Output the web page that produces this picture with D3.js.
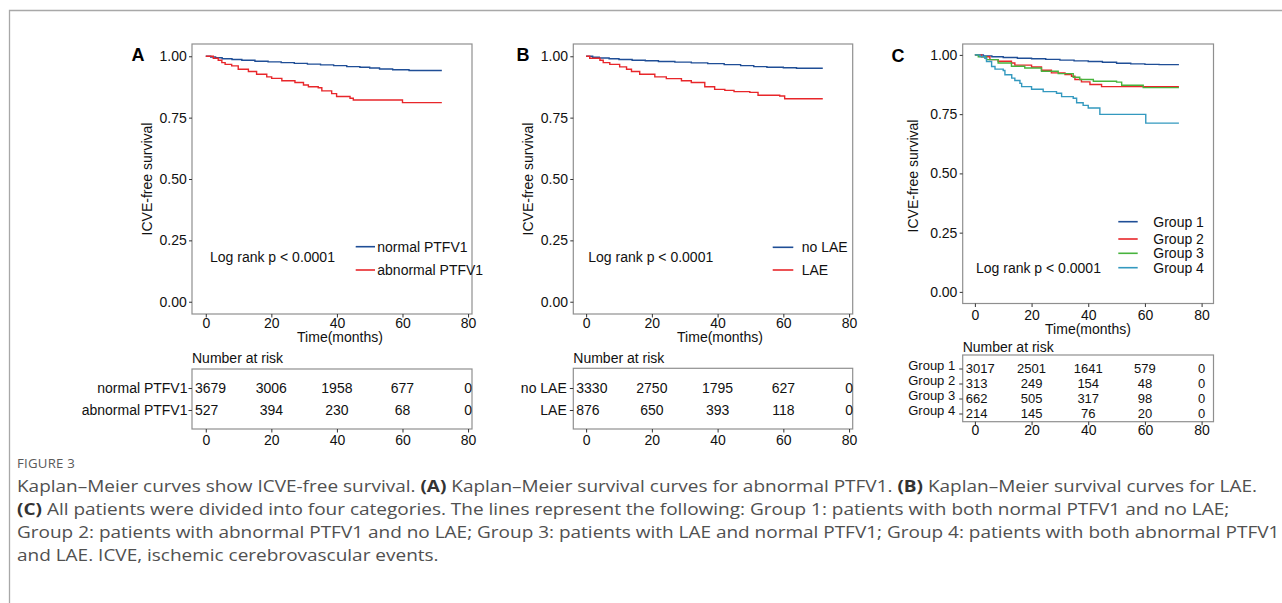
<!DOCTYPE html>
<html>
<head>
<meta charset="utf-8">
<script src="https://cdn.jsdelivr.net/npm/d3@7"></script>
<style>
  body { margin: 0; background: #fff; }
  svg text { font-family: "Liberation Sans", Arial, Helvetica, sans-serif; }
</style>
</head>
<body>
<svg id="fig" width="1282" height="603"></svg>
<script>
// ---- data ----
const timeTicks = [0, 20, 40, 60, 80];
const survTicks = [0, 0.25, 0.5, 0.75, 1];

// Panel A: PTFV1
const aNormalTime = [0, 1.5, 3, 5, 8, 11, 15, 19, 23, 27, 31, 35, 39, 43, 47, 50, 53, 57, 62, 72];
const aNormalSurv = [1, 0.997, 0.994, 0.99, 0.987, 0.984, 0.98, 0.977, 0.974, 0.971, 0.968, 0.965, 0.962, 0.958, 0.955, 0.952, 0.948, 0.945, 0.942, 0.942];
const aAbnormalTime = [0, 2.3, 3.8, 4.9, 5.9, 7.9, 9.9, 13, 15.5, 18.6, 20.1, 23.2, 27.2, 29.8, 31.3, 34.3, 35.4, 38.4, 39.9, 44, 45, 60, 72];
const aAbnormalSurv = [1, 0.992, 0.984, 0.974, 0.967, 0.961, 0.947, 0.938, 0.927, 0.916, 0.91, 0.9, 0.893, 0.883, 0.876, 0.872, 0.859, 0.848, 0.836, 0.829, 0.822, 0.811, 0.811];

// Panel B: LAE
const bNoLaeTime = [0, 2, 4, 7, 10, 14, 18, 22, 27, 32, 37, 42, 47, 51, 55, 60, 64, 72];
const bNoLaeSurv = [1, 0.996, 0.993, 0.99, 0.987, 0.984, 0.982, 0.979, 0.976, 0.973, 0.97, 0.966, 0.962, 0.958, 0.955, 0.953, 0.951, 0.951];
const bLaeTime = [0, 1.1, 4.2, 5.2, 7.2, 10.2, 12.3, 13.8, 16.3, 20.9, 24.4, 29, 32, 36.1, 39.1, 42.2, 45, 49.8, 52.3, 58.9, 60.4, 72];
const bLaeSurv = [1, 0.992, 0.984, 0.974, 0.967, 0.957, 0.947, 0.938, 0.927, 0.916, 0.909, 0.9, 0.893, 0.876, 0.865, 0.861, 0.856, 0.853, 0.841, 0.838, 0.827, 0.827];

// Panel C: four groups
const cG1Time = [0, 3, 6, 10, 15, 20, 25, 30, 35, 40, 45, 50, 55, 60, 65, 72];
const cG1Surv = [1, 0.996, 0.992, 0.989, 0.986, 0.984, 0.981, 0.978, 0.975, 0.972, 0.969, 0.965, 0.962, 0.96, 0.959, 0.959];
const cG2Time = [0, 2.4, 5.3, 8.2, 12.9, 14.1, 20, 23.5, 27, 31.8, 34.1, 35.3, 37.6, 40.6, 44.7, 72];
const cG2Surv = [1, 0.992, 0.98, 0.973, 0.966, 0.957, 0.949, 0.935, 0.924, 0.917, 0.91, 0.896, 0.886, 0.875, 0.866, 0.866];
const cG3Time = [0, 1.2, 4.1, 8.2, 12.9, 17.6, 23.5, 29.4, 34.7, 37, 41.8, 50, 51.8, 59.4, 72];
const cG3Surv = [1, 0.992, 0.98, 0.966, 0.952, 0.945, 0.931, 0.921, 0.906, 0.896, 0.889, 0.885, 0.872, 0.862, 0.862];
const cG4Time = [0, 1.8, 3.5, 4.1, 5.9, 7.1, 10, 10.6, 13, 14.1, 15.9, 16.5, 20, 24.1, 28.8, 30.6, 34.7, 35.9, 38.2, 40, 44.1, 60.3, 72];
const cG4Surv = [1, 0.993, 0.986, 0.972, 0.951, 0.94, 0.934, 0.916, 0.902, 0.892, 0.88, 0.866, 0.855, 0.845, 0.838, 0.824, 0.817, 0.798, 0.787, 0.776, 0.749, 0.712, 0.712];

// numbers at risk at 0, 20, 40, 60, 80 months
const riskNormalPTFV1 = [3679, 3006, 1958, 677, 0];
const riskAbnormalPTFV1 = [527, 394, 230, 68, 0];
const riskNoLAE = [3330, 2750, 1795, 627, 0];
const riskLAE = [876, 650, 393, 118, 0];
const riskGroup1 = [3017, 2501, 1641, 579, 0];
const riskGroup2 = [313, 249, 154, 48, 0];
const riskGroup3 = [662, 505, 317, 98, 0];
const riskGroup4 = [214, 145, 76, 20, 0];

const BLUE = '#1f4e96', RED = '#e8262a', GREEN = '#47b33d', CYAN = '#3399bf';

const svg = d3.select('#fig');
svg.append('rect').attr('width', 1282).attr('height', 603).attr('fill', '#fff');

// outer frame of the figure (top and left rule)
svg.append('path')
  .attr('d', 'M9.5,603 V10.5 H1282')
  .attr('fill', 'none').attr('stroke', '#a8a8a8').attr('stroke-width', 1.3);

const panels = [
  {
    letter: 'A', letterX: 131.5, letterY: 61,
    box: {x0: 192, x1: 472, y0: 44, y1: 314},
    xDomain: [-4.2, 81.2], yDomain: [-0.05, 1.05], xPad: 1,
    yTitle: [146.7, 179], xTitle: [340, 342],
    series: [
      {name: 'normal PTFV1', t: aNormalTime, s: aNormalSurv, color: BLUE, risk: riskNormalPTFV1},
      {name: 'abnormal PTFV1', t: aAbnormalTime, s: aAbnormalSurv, color: RED, risk: riskAbnormalPTFV1}
    ],
    legend: {x0: 355.7, x1: 375, tx: 377.3, ys: [246.7, 270]},
    logrank: [210, 262],
    table: {y0: 369, y1: 429, rows: [388, 410], labelDy: 0, labelPad: 1, titleY: 363, pad: 2.5, font: 14}
  },
  {
    letter: 'B', letterX: 516.5, letterY: 61,
    box: {x0: 573.3, x1: 852.7, y0: 44, y1: 314},
    xDomain: [-3.9, 81.1], yDomain: [-0.05, 1.05], xPad: 1,
    yTitle: [528, 179], xTitle: [720, 342],
    series: [
      {name: 'no LAE', t: bNoLaeTime, s: bNoLaeSurv, color: BLUE, risk: riskNoLAE},
      {name: 'LAE', t: bLaeTime, s: bLaeSurv, color: RED, risk: riskLAE}
    ],
    legend: {x0: 772.7, x1: 793.3, tx: 801.7, ys: [247.3, 270]},
    logrank: [588.3, 262],
    table: {y0: 368.3, y1: 429, rows: [388, 410], labelDy: 0, labelPad: 3, titleY: 363, pad: 2.5, font: 14}
  },
  {
    letter: 'C', letterX: 891.5, letterY: 61.5,
    box: {x0: 962.7, x1: 1213.5, y0: 44, y1: 303.5},
    xDomain: [-4.3, 84.2], yDomain: [-0.049, 1.046], xPad: 3,
    yTitle: [913, 176], xTitle: [1088, 333.5],
    series: [
      {name: 'Group 1', t: cG1Time, s: cG1Surv, color: BLUE, risk: riskGroup1},
      {name: 'Group 2', t: cG2Time, s: cG2Surv, color: RED, risk: riskGroup2},
      {name: 'Group 3', t: cG3Time, s: cG3Surv, color: GREEN, risk: riskGroup3},
      {name: 'Group 4', t: cG4Time, s: cG4Surv, color: CYAN, risk: riskGroup4}
    ],
    legend: {x0: 1118.3, x1: 1137.7, tx: 1153.3, ys: [221.7, 239, 253.3, 267.7]},
    logrank: [976, 273],
    table: {y0: 355, y1: 421.7, rows: [368.5, 413.5], labelDy: -4, labelPad: 4, titleY: 351.7, pad: 0, font: 13}
  }
];

function styleAxis(g, size) {
  g.attr('font-family', null).attr('font-size', size);
  g.select('.domain').remove();
  g.selectAll('.tick line').attr('stroke', '#333');
  g.selectAll('.tick text').attr('fill', '#111');
}

function drawPanel(p) {
  const g = svg.append('g');
  const b = p.box;
  const x = d3.scaleLinear().domain(p.xDomain).range([b.x0, b.x1]);
  const y = d3.scaleLinear().domain(p.yDomain).range([b.y1, b.y0]);

  g.append('rect')
    .attr('x', b.x0).attr('y', b.y0)
    .attr('width', b.x1 - b.x0).attr('height', b.y1 - b.y0)
    .attr('fill', 'none').attr('stroke', '#8f8f8f').attr('stroke-width', 1.2);

  g.append('g')
    .attr('transform', `translate(${b.x0},0)`)
    .call(d3.axisLeft(y).tickValues(survTicks).tickFormat(d3.format('.2f')).tickSize(3).tickPadding(2.3))
    .call(styleAxis, 14);

  g.append('g')
    .attr('transform', `translate(0,${b.y1})`)
    .call(d3.axisBottom(x).tickValues(timeTicks).tickSize(3.5).tickPadding(p.xPad))
    .call(styleAxis, 14);

  // survival curves
  const line = d3.line()
    .x(d => x(d[0]))
    .y(d => y(d[1]))
    .curve(d3.curveStepAfter);

  p.series.forEach(sr => {
    g.append('path')
      .datum(sr.t.map((t, i) => [t, sr.s[i]]))
      .attr('fill', 'none')
      .attr('stroke', sr.color)
      .attr('stroke-width', 1.4)
      .attr('d', line);
  });

  // legend
  p.series.forEach((sr, i) => {
    const ly = p.legend.ys[i];
    g.append('line')
      .attr('x1', p.legend.x0).attr('x2', p.legend.x1)
      .attr('y1', ly).attr('y2', ly)
      .attr('stroke', sr.color).attr('stroke-width', 1.6);
    g.append('text')
      .attr('x', p.legend.tx).attr('y', ly + 5)
      .attr('font-size', 14).attr('fill', '#111')
      .text(sr.name);
  });

  g.append('text')
    .attr('x', p.logrank[0]).attr('y', p.logrank[1])
    .attr('font-size', 14).attr('fill', '#111')
    .text('Log rank p < 0.0001');

  g.append('text')
    .attr('transform', `translate(${p.yTitle[0]},${p.yTitle[1]}) rotate(-90)`)
    .attr('text-anchor', 'middle').attr('dy', '0.35em')
    .attr('font-size', 14).attr('fill', '#111')
    .text('ICVE-free survival');

  g.append('text')
    .attr('x', p.xTitle[0]).attr('y', p.xTitle[1])
    .attr('text-anchor', 'middle')
    .attr('font-size', 14).attr('fill', '#111')
    .text('Time(months)');

  g.append('text')
    .attr('x', p.letterX).attr('y', p.letterY)
    .attr('font-size', 18).attr('font-weight', 'bold').attr('fill', '#000')
    .text(p.letter);

  // risk table
  const tb = p.table;
  const rowScale = d3.scalePoint()
    .domain(p.series.map(sr => sr.name))
    .range(tb.rows);

  g.append('text')
    .attr('x', b.x0).attr('y', tb.titleY)
    .attr('font-size', 14).attr('fill', '#111')
    .text('Number at risk');

  g.append('rect')
    .attr('x', b.x0).attr('y', tb.y0)
    .attr('width', b.x1 - b.x0).attr('height', tb.y1 - tb.y0)
    .attr('fill', 'none').attr('stroke', '#8f8f8f').attr('stroke-width', 1.2);

  const rowAxis = g.append('g')
    .attr('transform', `translate(${b.x0},0)`)
    .call(d3.axisLeft(rowScale).tickSize(3.5).tickPadding(tb.labelPad))
    .call(styleAxis, tb.font);
  rowAxis.selectAll('.tick text').attr('dy', null).attr('y', tb.labelDy + tb.font * 0.35);

  g.append('g')
    .attr('transform', `translate(0,${tb.y1})`)
    .call(d3.axisBottom(x).tickValues(timeTicks).tickSize(3.5).tickPadding(tb.pad))
    .call(styleAxis, 14);

  p.series.forEach(sr => {
    g.selectAll(null)
      .data(sr.risk.map((n, i) => ({n, t: timeTicks[i]})))
      .join('text')
      .attr('y', rowScale(sr.name))
      .attr('dy', '0.35em')
      .attr('text-anchor', 'middle')
      .attr('font-size', tb.font).attr('fill', '#111')
      .text(d => d.n)
      .attr('x', function(d) {
        const w = this.getComputedTextLength();
        return Math.max(x(d.t), b.x0 + w / 2 + 3);
      });
  });
}

panels.forEach(drawPanel);

// ---- caption ----
const capFont = '"Open Sans", "Noto Sans", sans-serif';
svg.append('text')
  .attr('x', 17).attr('y', 467.5)
  .attr('font-size', 12).attr('letter-spacing', 0.2)
  .attr('fill', '#5a5a5a')
  .style('font-family', capFont)
  .text('FIGURE 3')
  .attr('textLength', 58).attr('lengthAdjust', 'spacingAndGlyphs');

const captionLines = [
  [['Kaplan\u2013Meier curves show ICVE-free survival. '], ['(A)', 1], [' Kaplan\u2013Meier survival curves for abnormal PTFV1. '], ['(B)', 1], [' Kaplan\u2013Meier survival curves for LAE.']],
  [['(C)', 1], [' All patients were divided into four categories. The lines represent the following: Group 1: patients with both normal PTFV1 and no LAE;']],
  [['Group 2: patients with abnormal PTFV1 and no LAE; Group 3: patients with LAE and normal PTFV1; Group 4: patients with both abnormal PTFV1']],
  [['and LAE. ICVE, ischemic cerebrovascular events.']]
];
const capBaselines = [492, 515, 538, 561];

const capTexts = captionLines.map((parts, i) => {
  const t = svg.append('text')
    .attr('x', 17).attr('y', capBaselines[i])
    .attr('font-size', 16.5).attr('fill', '#505050')
    .style('font-family', capFont);
  parts.forEach(pt => {
    t.append('tspan')
      .attr('font-weight', pt[1] ? 'bold' : null)
      .attr('fill', pt[1] ? '#333' : null)
      .text(pt[0]);
  });
  return t;
});
// condense the caption horizontally so the first line spans the same width as the original
const k = 1240 / capTexts[0].node().getComputedTextLength();
capTexts.forEach(t => {
  const w = t.node().getComputedTextLength();
  t.attr('textLength', w * k).attr('lengthAdjust', 'spacingAndGlyphs');
});
</script>
</body>
</html>
